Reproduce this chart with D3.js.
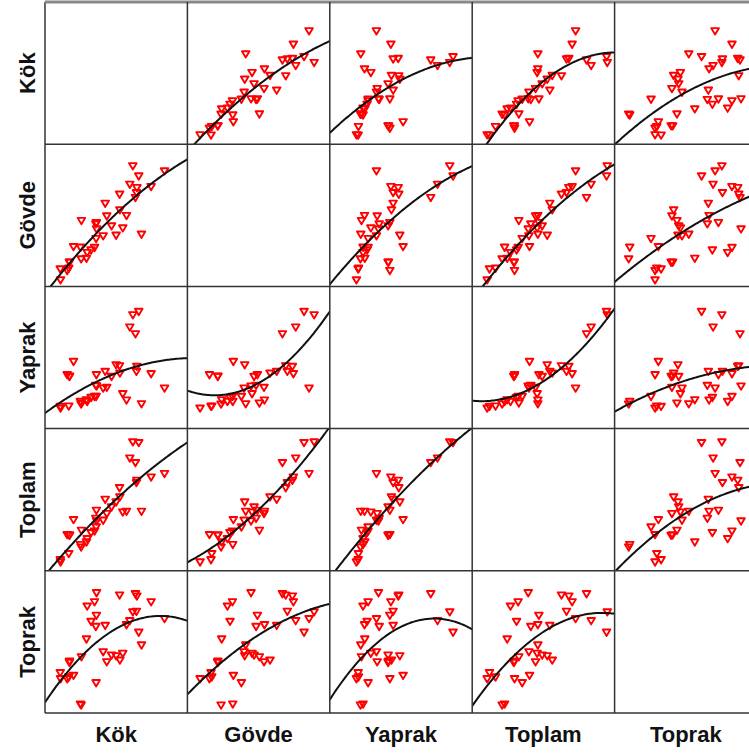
<!DOCTYPE html>
<html>
<head>
<meta charset="utf-8">
<script src="https://cdn.jsdelivr.net/npm/d3@7"></script>
<style>
  body { margin: 0; background: #fff; }
  text { font-family: "Liberation Sans", Arial, sans-serif; font-weight: bold; fill: #111; }
</style>
</head>
<body>
<svg id="chart" width="749" height="754"></svg>
<script>
// Variables of the scatterplot matrix (row/column order)
const variables = ["Kök", "Gövde", "Yaprak", "Toplam", "Toprak"];

// One value per sample for each variable
const kok    = [83.0, 73.7, 67.0, 65.1, 61.0, 63.5, 63.8, 58.9, 62.8, 56.6, 54.0, 52.0, 51.8, 49.4, 46.2, 42.9, 41.8, 40.4,
                35.5, 35.3, 35.7, 34.4, 32.0, 28.8, 29.3, 25.3, 24.6, 19.8, 17.0, 17.0, 16.5, 15.4, 10.8, 10.6, 25.1, 35.8];
const govde  = [84.5, 73.6, 40.5, 81.0, 88.0, 69.4, 72.9, 75.2, 66.0, 53.5, 44.9, 57.4, 68.3, 39.8, 46.3, 53.2, 62.0, 39.4,
                37.5, 47.7, 48.6, 31.3, 29.6, 23.8, 27.8, 50.0, 31.5, 31.9, 21.1, 21.1, 16.9, 15.3,  8.8, 16.4, 23.4, 44.2];
const yaprak = [32.4, 42.4, 21.5, 85.6, 83.3, 44.0, 47.5, 74.8, 70.1, 24.1, 28.5, 42.8, 47.9, 48.6, 40.5, 32.9, 44.0, 32.4,
                26.6, 34.3, 41.7, 26.6, 25.9, 24.3, 23.1, 22.0, 23.1, 50.9, 40.5, 40.7, 19.9, 41.7, 18.5, 19.7, 21.3, 33.8];
const toplam = [71.8, 69.4, 45.6, 93.3, 93.8, 65.5, 67.1, 82.6, 79.4, 45.6, 45.1, 55.6, 62.0, 52.1, 48.6, 44.0, 53.9, 39.4,
                34.7, 40.7, 46.3, 31.9, 30.8, 24.3, 26.6, 32.4, 22.5, 39.8, 28.9, 29.2, 16.2, 29.4, 10.4, 12.0, 20.8, 38.9];
const toprak = [69.8, 81.5, 51.5, 60.4, 74.5, 74.9, 85.5, 68.4, 87.1, 65.6, 45.7, 41.0, 86.2, 44.0, 44.5, 39.8, 65.1, 46.8,
                25.3, 64.4, 72.1, 81.5, 67.9, 55.7, 78.5, 43.3, 10.5, 30.4, 39.3, 40.3, 29.3, 28.1, 28.1, 32.3,  9.8, 87.8];

const series = [kok, govde, yaprak, toplam, toprak];

// Common axis range for every variable; vertical axes sit slightly lower
const xDomain = [0, 100];
const yDomain = [4.5, 104.5];

const gridLeft = 45, gridTop = 2, cellW = 142.4, cellH = 142.2, span = 144;

const svg = d3.select("#chart");

// Least-squares quadratic y = a + b x + c x^2
function quadFit(xs, ys) {
  const s = [0, 0, 0, 0, 0], t = [0, 0, 0];
  xs.forEach((x, i) => {
    const y = ys[i];
    let p = 1;
    for (let k = 0; k < 5; k++) { s[k] += p; p *= x; }
    t[0] += y; t[1] += x * y; t[2] += x * x * y;
  });
  const m = [[s[0], s[1], s[2], t[0]], [s[1], s[2], s[3], t[1]], [s[2], s[3], s[4], t[2]]];
  for (let c = 0; c < 3; c++) {
    let piv = c;
    for (let r = c + 1; r < 3; r++) if (Math.abs(m[r][c]) > Math.abs(m[piv][c])) piv = r;
    [m[c], m[piv]] = [m[piv], m[c]];
    for (let r = 0; r < 3; r++) {
      if (r === c) continue;
      const f = m[r][c] / m[c][c];
      for (let k = c; k < 4; k++) m[r][k] -= f * m[c][k];
    }
  }
  return [m[0][3] / m[0][0], m[1][3] / m[1][1], m[2][3] / m[2][2]];
}

const defs = svg.append("defs");
// Downward-pointing open triangle
const marker = "M-3.8,-3L3.8,-3L0,3.4Z";

variables.forEach((rowVar, i) => {
  variables.forEach((colVar, j) => {
    const x0 = gridLeft + j * cellW, y0 = gridTop + i * cellH;
    const rowBottom = y0 + cellH;
    const id = `clip-${i}-${j}`;
    defs.append("clipPath").attr("id", id)
      .append("rect").attr("x", x0).attr("y", y0).attr("width", cellW).attr("height", cellH);
    if (i === j) return;

    const x = d3.scaleLinear().domain(xDomain).range([x0, x0 + span]);
    const y = d3.scaleLinear().domain(yDomain).range([rowBottom, rowBottom - span]);
    const xs = series[j], ys = series[i];

    const g = svg.append("g").attr("clip-path", `url(#${id})`);

    g.selectAll("path.pt")
      .data(xs.map((v, k) => [v, ys[k]]))
      .join("path")
      .attr("class", "pt")
      .attr("d", marker)
      .attr("transform", d => `translate(${x(d[0])},${y(d[1])})`)
      .attr("fill", "none")
      .attr("stroke", "#ff0000")
      .attr("stroke-width", 1.9)
      .attr("stroke-linejoin", "round");

    const [a, b, c] = quadFit(xs, ys);
    const grid = d3.range(0, 101, 1);
    g.append("path")
      .datum(grid)
      .attr("fill", "none")
      .attr("stroke", "#111")
      .attr("stroke-width", 2)
      .attr("d", d3.line().x(v => x(v)).y(v => y(a + b * v + c * v * v)));
  });
});

// Cell borders
const gridG = svg.append("g");
d3.range(6).forEach(k => {
  gridG.append("line")
    .attr("x1", gridLeft + k * cellW).attr("x2", gridLeft + k * cellW)
    .attr("y1", gridTop).attr("y2", gridTop + 5 * cellH)
    .attr("stroke", "#333").attr("stroke-width", 1.5);
  gridG.append("line")
    .attr("x1", gridLeft).attr("x2", gridLeft + 5 * cellW)
    .attr("y1", gridTop + k * cellH).attr("y2", gridTop + k * cellH)
    .attr("stroke", k === 0 ? "#888" : "#333").attr("stroke-width", k === 0 ? 3 : 1.5);
});

// Column titles
svg.selectAll("text.col")
  .data(variables)
  .join("text")
  .attr("class", "col")
  .attr("x", (d, j) => gridLeft + j * cellW + cellW / 2)
  .attr("y", 742)
  .attr("text-anchor", "middle")
  .attr("font-size", 22)
  .text(d => d);

// Row titles
svg.selectAll("text.row")
  .data(variables)
  .join("text")
  .attr("class", "row")
  .attr("transform", (d, i) => `translate(35,${gridTop + i * cellH + cellH / 2}) rotate(-90)`)
  .attr("text-anchor", "middle")
  .attr("font-size", 22)
  .text(d => d);
</script>
</body>
</html>
